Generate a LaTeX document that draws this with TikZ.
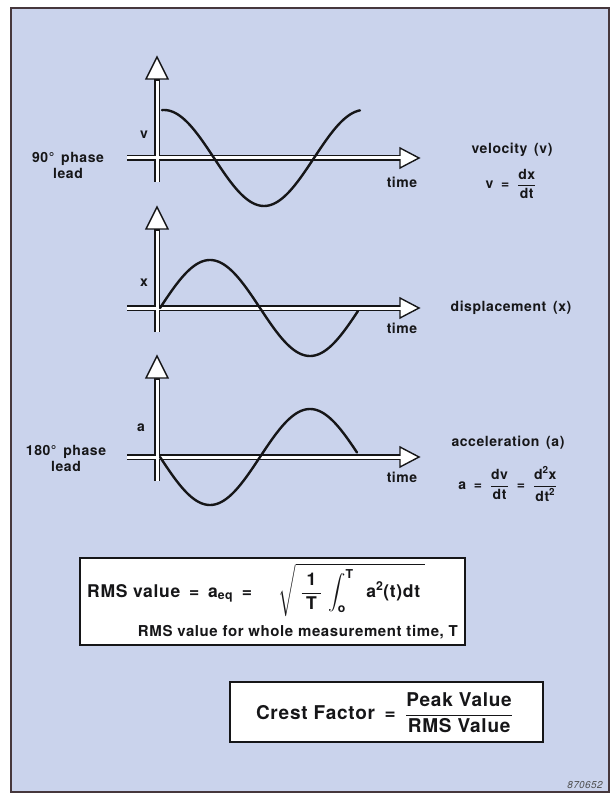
\RequirePackage{fix-cm}
\documentclass[tikz,border=0pt]{standalone}
\definecolor{PaperBlue}{RGB}{202, 211, 236}
\definecolor{InkBlack}{RGB}{22, 22, 24}
\definecolor{FrameGray}{RGB}{70, 55, 60}
\usepackage{amsmath}
\usepackage{fontspec}
\setmainfont{TeX Gyre Heros}[LetterSpace=4.0]
\usepackage{tikz}
\usetikzlibrary{arrows.meta, positioning}

\begin{document}
\begin{tikzpicture}[x=1pt, y=-1pt,
		axisout/.style={line width=6.5pt, InkBlack},
		axisin/.style={line width=3pt, white},
		axhead/.style={draw=InkBlack, line width=1.4pt, fill=white, line join=miter},
		wave/.style={line width=2.4pt, InkBlack, line cap=round},
		lbl/.style={font=\fontsize{14}{16}\selectfont\bfseries, text=InkBlack, inner sep=0pt},
		eqbox/.style={draw=InkBlack, line width=2.4pt, fill=white, inner sep=0pt}]
	\useasboundingbox (0,0) rectangle (613,794);
	\fill[white] (0,0) rectangle (613,794);
	\filldraw[fill=PaperBlue, draw=FrameGray, line width=1.4pt] (11,8) rectangle (609,792);

	% axes: black outline, white head, white core
	\foreach \ay in {158,308,457} {
		\draw[axisout] (157,\ay+24) -- (157,\ay-80);
		\draw[axisout] (127,\ay) -- (401,\ay);
		\filldraw[axhead] (157,\ay-101) -- (146,\ay-79) -- (168,\ay-79) -- cycle;
		\filldraw[axhead] (419,\ay) -- (400,\ay-10) -- (400,\ay+10) -- cycle;
		\draw[axisin] (157,\ay+24) -- (157,\ay-77);
		\draw[axisin] (127,\ay) -- (403,\ay);
	}

	% the three waves
	\draw[wave] plot[domain=162:360, samples=90, smooth] (\x, {158-48*cos((\x-164)*1.8)});
	\draw[wave] plot[domain=160:358, samples=90, smooth] (\x, {308-48*sin((\x-160)*1.8)});
	\draw[wave] plot[domain=160:357, samples=90, smooth] (\x, {457+48*sin((\x-160)*1.8)});

	\node[lbl] (vlab) at (144,135) {v};
	\node[lbl] (xlab) at (144,283) {x};
	\node[lbl] (alab) at (141,428) {a};
	\node[lbl, align=center] (lead90) at (68,165) {90°\ \,phase\\lead};
	\node[lbl, align=center] (lead180) at (66,458) {180°\ \,phase\\lead};
	\node[lbl] (tv) at (402,182) {time};
	\node[lbl] (tx) at (402,328) {time};
	\node[lbl] (ta) at (402,477) {time};

	\node[lbl] (velname) at (512,150) {velocity\ \,(v)};
	\node[lbl] (veleq) at (511,184) {$\text{v}\mathrel{\;\text{=}\;}\dfrac{\text{dx}}{\text{dt}}$};
	\node[lbl] (dispname) at (511,308) {displacement\ \,(x)};
	\node[lbl] (accname) at (508,443) {acceleration\ \,(a)};
	\node[lbl] (acceq) at (508,484) {$\text{a}\mathrel{\;\text{=}\;}\dfrac{\text{dv}}{\text{dt}}\mathrel{\;\text{=}\;}\dfrac{\text{d}^{\text{2}}\text{x}}{\text{dt}^{\text{2}}}$};

	% RMS box
	\node[eqbox, minimum width=385pt, minimum height=87pt] (rmsbox) at (272.5,601.5) {};
	\node[anchor=west, font=\fontsize{17.5}{20}\selectfont\bfseries, text=InkBlack, inner sep=0pt] (rmseq) at (87,590)
		{RMS value\enspace=\enspace a$_{\text{eq}}$\enspace=\quad\enspace$\sqrt{\;\dfrac{\hspace{5pt}\text{1}\hspace{5pt}}{\text{T}}\,\displaystyle\int_{\text{o}}^{\text{T}}\;\;\text{a}^{\text{2}}\text{(t)dt}\;}$};
	\node[anchor=east, font=\fontsize{15}{17}\selectfont\bfseries, text=InkBlack, inner sep=0pt] (rmsnote) at (458,632)
		{RMS value for whole measurement time, T};

	% crest factor box
	\node[eqbox, minimum width=313pt, minimum height=60pt] (crestbox) at (386.5,712) {};
	\node[font=\fontsize{19}{22}\selectfont\bfseries, text=InkBlack, inner sep=0pt] (cresteq) at (384.5,713)
		{Crest Factor\enspace=\enspace$\dfrac{\text{Peak Value}}{\text{RMS Value}}$};

	\node[font=\fontsize{10}{12}\selectfont\itshape, text=black!70, inner sep=0pt] (figno) at (585,785) {870652};
\end{tikzpicture}
\end{document}
